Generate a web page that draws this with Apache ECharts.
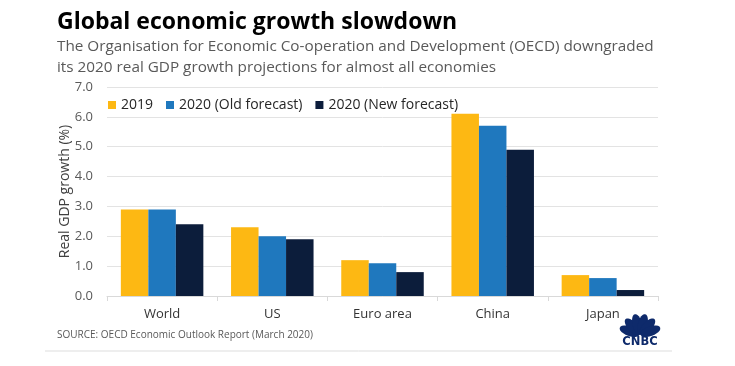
<!DOCTYPE html>
<html><head><meta charset="utf-8">
<script src="https://cdn.jsdelivr.net/npm/echarts@6/dist/echarts.min.js"></script>
<style>html,body{margin:0;padding:0;background:#fff;}#c{width:735px;height:366px;}</style>
</head><body><div id="c"></div>
<script>
const categories = ['World', 'US', 'Euro area', 'China', 'Japan'];
const s2019 = [2.9, 2.3, 1.2, 6.1, 0.7];
const sOld = [2.9, 2.0, 1.1, 5.7, 0.6];
const sNew = [2.4, 1.9, 0.8, 4.9, 0.2];
const seriesNames = ['2019', '2020 (Old forecast)', '2020 (New forecast)'];
const colors = ['#FDB813', '#1F78BE', '#0C1D3B'];
const FONT = '"Open Sans", sans-serif';

const chart = echarts.init(document.getElementById('c'), null, {renderer: 'canvas'});

// CNBC peacock logo (decoration)
function featherPoints(cx, cy, angDeg, dist, a, b) {
  const t = angDeg * Math.PI / 180;
  const ux = Math.sin(t), uy = -Math.cos(t);
  const vx = Math.cos(t), vy = Math.sin(t);
  const mx = cx + ux * dist, my = cy + uy * dist;
  const pts = [];
  for (let i = 0; i < 24; i++) {
    const p = i / 24 * Math.PI * 2;
    const ca = Math.cos(p) * a, sb = Math.sin(p) * b;
    pts.push([mx + ux * ca + vx * sb, my + uy * ca + vy * sb]);
  }
  return pts;
}
const logoX = 640, logoY = 335;
const feathers = [-70, -42, -14, 14, 42, 70].map(a => ({
  type: 'polygon', shape: {points: featherPoints(logoX, logoY, a, 11, 10.5, 4.8)},
  style: {fill: '#0E2A6B'}
}));

chart.setOption({
  animation: false,
  color: colors,
  textStyle: {fontFamily: FONT},
  grid: {left: 107, right: 77, top: 87, bottom: 70},
  legend: {
    left: 103, top: 93, itemWidth: 8, itemHeight: 8, itemGap: 13,
    icon: 'rect',
    textStyle: {fontSize: 14, color: '#262626', fontFamily: FONT},
    data: seriesNames
  },
  xAxis: {
    type: 'category', data: categories,
    axisLine: {lineStyle: {color: '#D9D9D9'}},
    axisTick: {show: true, length: 5, lineStyle: {color: '#D9D9D9'}},
    axisLabel: {fontSize: 13, color: '#333', margin: 12, fontFamily: FONT}
  },
  yAxis: {
    type: 'value', min: 0, max: 7, interval: 1,
    name: 'Real GDP growth (%)', nameLocation: 'middle', nameGap: 35, nameRotate: 90,
    nameMoveOverlap: false,
    nameTextStyle: {fontSize: 14, color: '#404040', fontFamily: FONT},
    axisLabel: {formatter: v => v.toFixed(1), fontSize: 13, color: '#595959', margin: 14, fontFamily: FONT},
    splitLine: {lineStyle: {color: '#E3E3E3'}},
    axisLine: {show: false}, axisTick: {show: false}
  },
  series: [
    {name: seriesNames[0], type: 'bar', data: s2019, barWidth: 27.5, barGap: '0%'},
    {name: seriesNames[1], type: 'bar', data: sOld, barWidth: 27.5, barGap: '0%'},
    {name: seriesNames[2], type: 'bar', data: sNew, barWidth: 27.5, barGap: '0%'}
  ],
  graphic: [
    {type: 'text', left: 57, top: 11, style: {text: 'Global economic growth slowdown', fontSize: 23, fontWeight: 'bold', fill: '#000', fontFamily: FONT}},
    {type: 'text', left: 57, top: 39, style: {text: 'The Organisation for Economic Co-operation and Development (OECD) downgraded', fontSize: 15.3, fill: '#595959', fontFamily: FONT}},
    {type: 'text', left: 57, top: 60, style: {text: 'its 2020 real GDP growth projections for almost all economies', fontSize: 15.3, fill: '#595959', fontFamily: FONT}},
    {type: 'text', left: 57, top: 330, style: {text: 'SOURCE: OECD Economic Outlook Report (March 2020)', fontSize: 10, fill: '#595959', fontFamily: FONT}},
    {type: 'line', shape: {x1: 45, y1: 351, x2: 672, y2: 351}, style: {stroke: '#DDDDDD', lineWidth: 1}},
    {type: 'group', children: feathers},
    {type: 'text', x: 640, y: 336, style: {text: 'CNBC', fontSize: 11.5, fontWeight: 'bold', fill: '#0E2A6B', fontFamily: '"DejaVu Sans", sans-serif', align: 'center', verticalAlign: 'top'}}
  ]
});
</script></body></html>
